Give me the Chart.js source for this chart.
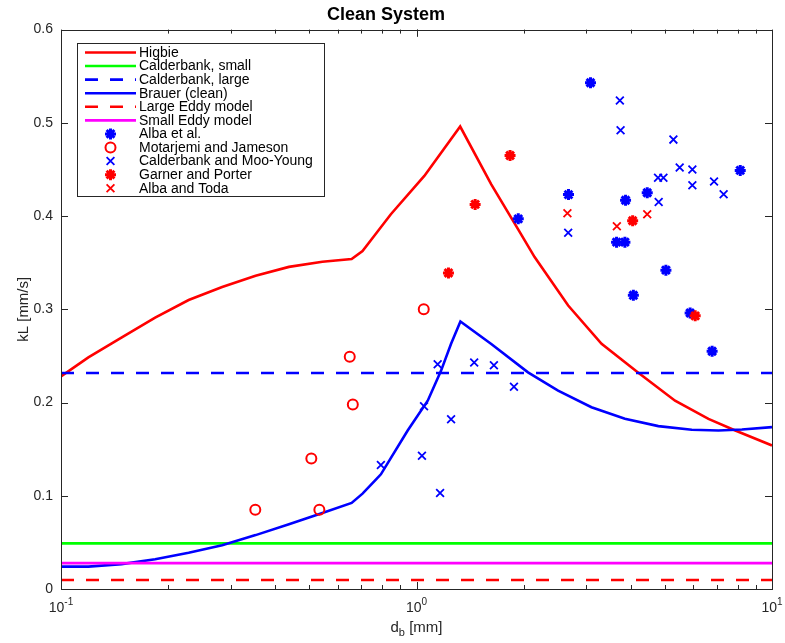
<!DOCTYPE html>
<html>
<head>
<meta charset="utf-8">
<script src="https://cdn.jsdelivr.net/npm/chart.js@4/dist/chart.umd.min.js"></script>
<style>
  html, body { margin: 0; padding: 0; background: #ffffff; }
  #wrap { width: 785px; height: 643px; }
</style>
</head>
<body>
<div id="wrap"><canvas id="kLChart" width="785" height="643"></canvas></div>
<script>
// bubble diameter d_b [mm] vs. mass transfer coefficient kL [mm/s]
const higbieD  = [0.1, 0.1194, 0.1483, 0.184, 0.2286, 0.284, 0.3527, 0.4377, 0.5435, 0.657, 0.705, 0.76, 0.847, 1.052, 1.327, 1.623, 1.93, 2.149, 2.671, 3.316, 4.207, 5.337, 6.626, 7.884, 10];
const higbieKL = [0.228, 0.2485, 0.270, 0.291, 0.310, 0.324, 0.336, 0.3455, 0.351, 0.354, 0.3626, 0.3786, 0.402, 0.443, 0.496, 0.434, 0.386, 0.356, 0.304, 0.263, 0.232, 0.202, 0.1825, 0.170, 0.154];

const brauerD  = [0.1, 0.1194, 0.148, 0.184, 0.2286, 0.284, 0.3527, 0.4377, 0.5435, 0.657, 0.705, 0.7686, 0.794, 0.9445, 1.0755, 1.172, 1.251, 1.329, 1.623, 2.059, 2.502, 3.106, 3.857, 4.79, 5.948, 7.07, 8.23, 10];
const brauerKL = [0.024, 0.024, 0.0267, 0.032, 0.0389, 0.047, 0.0578, 0.0695, 0.0816, 0.0923, 0.1023, 0.1173, 0.123, 0.170, 0.202, 0.234, 0.263, 0.287, 0.2628, 0.2324, 0.2128, 0.195, 0.1826, 0.1747, 0.1708, 0.170, 0.1711, 0.1736];

const dRange = [0.1, 10];
const calderbankSmall = 0.0489;
const calderbankLarge = 0.2317;
const largeEddy = 0.0096;
const smallEddy = 0.0278;

const albaD  = [1.933, 2.676, 3.086, 3.654, 3.857, 3.873, 4.074, 4.457, 5.03, 5.884, 6.785, 8.14];
const albaKL = [0.397, 0.423, 0.543, 0.372, 0.372, 0.417, 0.315, 0.425, 0.342, 0.296, 0.255, 0.449];

const motarjemiD  = [0.352, 0.506, 0.533, 0.649, 0.662, 1.048];
const motarjemiKL = [0.085, 0.140, 0.085, 0.249, 0.198, 0.300];

const mooYoungD  = [0.794, 1.036, 1.05, 1.147, 1.165, 1.251, 1.453, 1.651, 1.88, 2.671, 3.733, 3.75, 4.78, 4.8, 4.95, 5.28, 5.5, 5.97, 5.97, 6.87, 7.31];
const mooYoungKL = [0.133, 0.143, 0.196, 0.241, 0.103, 0.182, 0.243, 0.240, 0.217, 0.382, 0.524, 0.492, 0.441, 0.415, 0.441, 0.482, 0.452, 0.450, 0.433, 0.437, 0.4235];

const garnerD  = [1.23, 1.462, 1.833, 4.055, 6.08];
const garnerKL = [0.339, 0.4125, 0.465, 0.395, 0.293];

const todaD  = [2.658, 3.661, 4.457];
const todaKL = [0.403, 0.389, 0.402];

const yTicks = [0, 0.1, 0.2, 0.3, 0.4, 0.5, 0.6];
const xMajor = [0.1, 1, 10];
const xMajorExp = ['-1', '0', '1'];

const RED = '#ff0000', GREEN = '#00ff00', BLUE = '#0000ff', MAGENTA = '#ff00ff';
const AXIS = '#262626';
const FONT = '"Liberation Sans", Arial, Helvetica, sans-serif';

function pts(xs, ys) {
    return xs.map((x, i) => ({ x: x, y: ys[i] }));
}
function flat(v) {
    return dRange.map(x => ({ x: x, y: v }));
}

function lineSet(label, data, color, dash) {
    return {
        label: label,
        data: data,
        showLine: true,
        borderColor: color,
        backgroundColor: color,
        borderWidth: 2.6,
        borderDash: dash || [],
        pointRadius: 0,
        tension: 0
    };
}
function markerSet(label, data, color, style, radius, width) {
    return {
        label: label,
        data: data,
        showLine: false,
        borderColor: color,
        backgroundColor: style === 'circle' ? 'rgba(0,0,0,0)' : color,
        pointStyle: style,
        pointRadius: radius,
        pointBorderWidth: width,
        pointHoverRadius: radius
    };
}

const datasets = [
    lineSet('Higbie', pts(higbieD, higbieKL), RED),
    lineSet('Calderbank, small', flat(calderbankSmall), GREEN),
    lineSet('Calderbank, large', flat(calderbankLarge), BLUE, [13, 12]),
    lineSet('Brauer (clean)', pts(brauerD, brauerKL), BLUE),
    lineSet('Large Eddy model', flat(largeEddy), RED, [13, 12]),
    lineSet('Small Eddy model', flat(smallEddy), MAGENTA),
    markerSet('Alba et al.', pts(albaD, albaKL), BLUE, 'star', 5.5, 3),
    markerSet('Motarjemi and Jameson', pts(motarjemiD, motarjemiKL), RED, 'circle', 5, 2),
    markerSet('Calderbank and Moo-Young', pts(mooYoungD, mooYoungKL), BLUE, 'crossRot', 5.5, 1.8),
    markerSet('Garner and Porter', pts(garnerD, garnerKL), RED, 'star', 5.5, 3),
    markerSet('Alba and Toda', pts(todaD, todaKL), RED, 'crossRot', 5.5, 1.8)
];
// later series sit on top, like the plotting order
datasets.forEach((ds, i) => { ds.order = datasets.length - i; });

// box, inward tick marks, power-of-ten labels and the x-axis title with subscript
const axesFrame = {
    id: 'axesFrame',
    afterDatasetsDraw(chart) {
        const ctx = chart.ctx;
        const a = chart.chartArea;
        const xs = chart.scales.x, ys = chart.scales.y;
        ctx.save();
        ctx.strokeStyle = AXIS;
        ctx.lineWidth = 1;
        ctx.beginPath();
        for (let n = -1; n <= 0; n++) {
            for (let k = 1; k <= 10; k++) {
                const v = k * Math.pow(10, n);
                const px = Math.round(xs.getPixelForValue(v)) + 0.5;
                const len = (k === 1 || k === 10) ? 7 : 4;
                ctx.moveTo(px, a.bottom); ctx.lineTo(px, a.bottom - len);
                ctx.moveTo(px, a.top); ctx.lineTo(px, a.top + len);
            }
        }
        yTicks.forEach(v => {
            const py = Math.round(ys.getPixelForValue(v)) + 0.5;
            ctx.moveTo(a.left, py); ctx.lineTo(a.left + 7, py);
            ctx.moveTo(a.right, py); ctx.lineTo(a.right - 7, py);
        });
        ctx.stroke();
        ctx.strokeRect(Math.round(a.left) + 0.5, Math.round(a.top) + 0.5,
            Math.round(a.right - a.left), Math.round(a.bottom - a.top));

        ctx.fillStyle = AXIS;
        ctx.textBaseline = 'alphabetic';
        ctx.textAlign = 'left';
        const big = '15px ' + FONT, small = '11px ' + FONT;
        const tickBig = '14px ' + FONT, tickSmall = '10px ' + FONT;

        // 10^n labels under the decades
        xMajor.forEach((v, i) => {
            ctx.font = tickBig;
            const wb = ctx.measureText('10').width;
            ctx.font = tickSmall;
            const we = ctx.measureText(xMajorExp[i]).width;
            let x = xs.getPixelForValue(v) - (wb + we) / 2;
            ctx.font = tickBig;
            ctx.fillText('10', x, 612);
            ctx.font = tickSmall;
            ctx.fillText(xMajorExp[i], x + wb, 605);
        });

        // d_b [mm]
        ctx.font = big;
        const w1 = ctx.measureText('d').width;
        const w3 = ctx.measureText(' [mm]').width;
        ctx.font = small;
        const w2 = ctx.measureText('b').width;
        const cx = (a.left + a.right) / 2;
        let x = cx - (w1 + w2 + w3) / 2;
        const base = 632;
        ctx.font = big;
        ctx.fillText('d', x, base);
        x += w1;
        ctx.font = small;
        ctx.fillText('b', x, base + 4);
        x += w2;
        ctx.font = big;
        ctx.fillText(' [mm]', x, base);
        ctx.restore();
    }
};

// boxed legend in the upper-left corner of the plot area
const boxLegend = {
    id: 'boxLegend',
    afterDraw(chart) {
        const ctx = chart.ctx;
        const left = 77, top = 43, right = 324, bottom = 196;
        const rowH = 13.57, firstRow = 52.5;
        ctx.save();
        ctx.fillStyle = '#ffffff';
        ctx.fillRect(left, top, right - left, bottom - top);
        ctx.strokeStyle = AXIS;
        ctx.lineWidth = 1;
        ctx.strokeRect(left + 0.5, top + 0.5, right - left, bottom - top);
        ctx.font = '14px ' + FONT;
        ctx.textBaseline = 'middle';
        ctx.textAlign = 'left';
        chart.data.datasets.forEach((ds, i) => {
            const y = firstRow + i * rowH;
            ctx.save();
            if (ds.showLine) {
                ctx.strokeStyle = ds.borderColor;
                ctx.lineWidth = ds.borderWidth;
                ctx.setLineDash(ds.borderDash);
                ctx.beginPath();
                ctx.moveTo(85, y);
                ctx.lineTo(136, y);
                ctx.stroke();
            } else {
                ctx.strokeStyle = ds.borderColor;
                ctx.fillStyle = ds.backgroundColor;
                ctx.lineWidth = ds.pointBorderWidth;
                Chart.helpers.drawPoint(ctx, {
                    pointStyle: ds.pointStyle,
                    radius: ds.pointRadius,
                    borderWidth: ds.pointBorderWidth,
                    rotation: 0
                }, 110.5, y);
            }
            ctx.restore();
            ctx.fillStyle = '#000000';
            ctx.fillText(ds.label, 139, y + 0.5);
        });
        ctx.restore();
    }
};

const chart = new Chart(document.getElementById('kLChart'), {
    type: 'scatter',
    data: { datasets: datasets },
    plugins: [axesFrame, boxLegend],
    options: {
        responsive: false,
        animation: false,
        devicePixelRatio: 1,
        layout: { padding: { left: 0, right: 13, top: 0, bottom: 0 } },
        plugins: {
            legend: { display: false },
            tooltip: { enabled: false },
            title: {
                display: true,
                text: 'Clean System',
                color: '#000000',
                font: { family: FONT, size: 18, weight: 'bold' },
                padding: { top: 4, bottom: 4 }
            }
        },
        scales: {
            x: {
                type: 'logarithmic',
                min: 0.1,
                max: 10,
                grid: { display: false, drawTicks: false },
                border: { display: false },
                ticks: {
                    autoSkip: false,
                    maxRotation: 0,
                    callback: () => ''
                },
                afterFit: (scale) => { scale.height = 54; }
            },
            y: {
                min: 0,
                max: 0.6,
                grid: { display: false, drawTicks: false },
                border: { display: false },
                ticks: {
                    stepSize: 0.1,
                    padding: 8,
                    color: AXIS,
                    font: { family: FONT, size: 14 },
                    callback: (value) => String(+value.toFixed(1))
                },
                title: {
                    display: true,
                    text: 'kL [mm/s]',
                    color: AXIS,
                    font: { family: FONT, size: 15 },
                    padding: { top: 15, bottom: 0 }
                },
                afterFit: (scale) => { scale.width = 61; }
            }
        }
    }
});
</script>
</body>
</html>
